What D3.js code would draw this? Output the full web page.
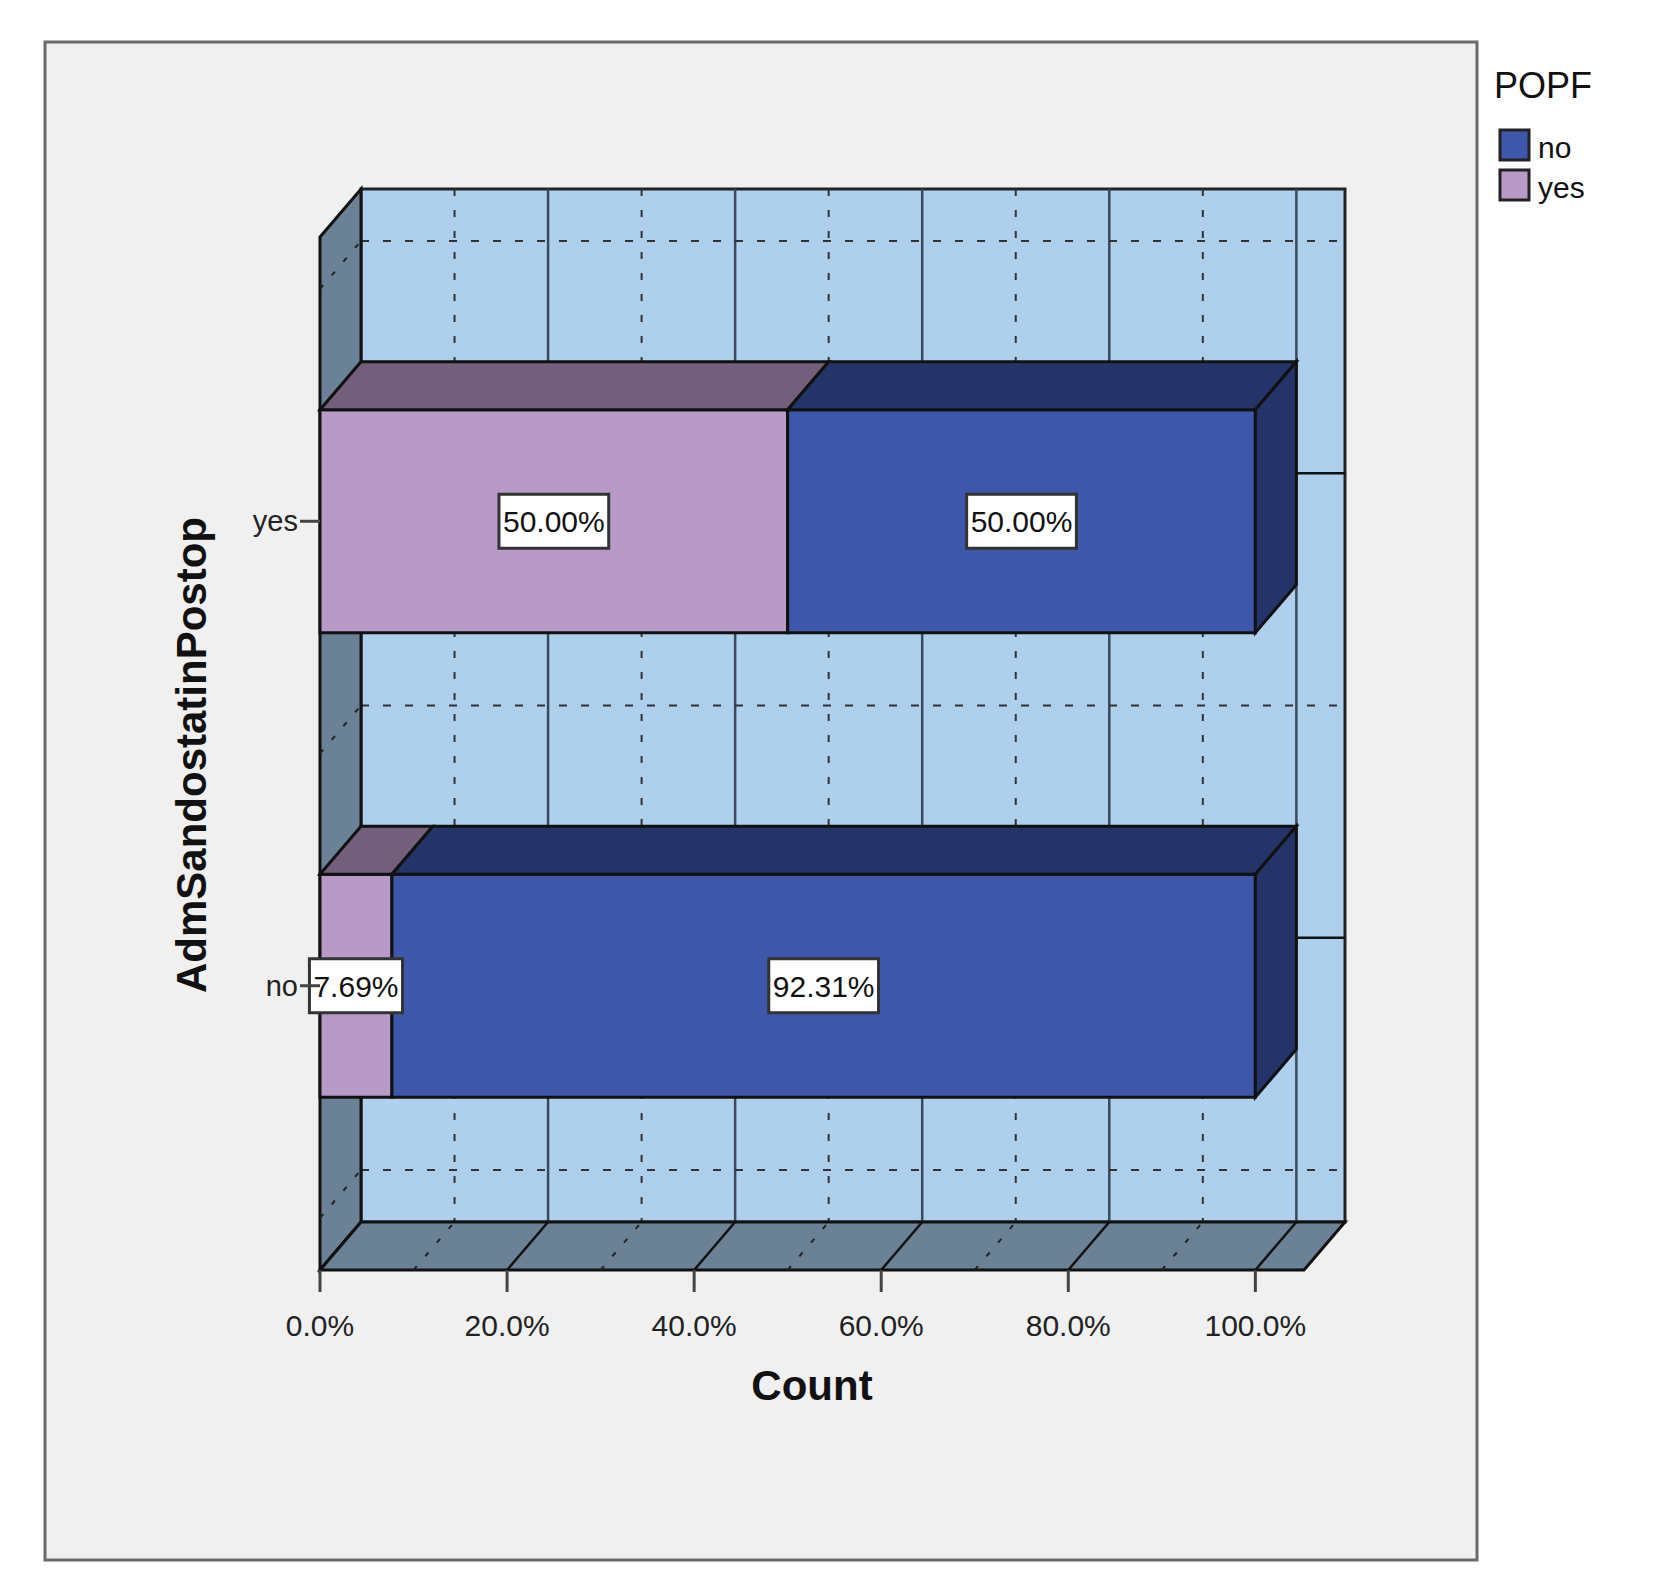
<!DOCTYPE html>
<html><head><meta charset="utf-8">
<script src="https://cdn.jsdelivr.net/npm/d3@7"></script>
<style>body{margin:0;background:#fff}text{font-family:"Liberation Sans",Arial,sans-serif}</style>
</head><body>
<script>
var categories = ["yes", "no"];
var series = ["yes", "no"];           // POPF, stacked left to right
var pctYes = [50.00, 7.69];           // POPF = yes
var pctNo = [50.00, 92.31];           // POPF = no
var xTicks = [0, 20, 40, 60, 80, 100];
var legendItems = ["no", "yes"];

var colors = {
  yes: {face: "#b89ac8", top: "#735f7b"},
  no: {face: "#3e57aa", top: "#253468"}
};

var W = 1655, H = 1579, dx = 41, dy = 48;
var svg = d3.select("body").append("svg").attr("width", W).attr("height", H);

svg.append("rect").attr("x", 45).attr("y", 42).attr("width", 1432).attr("height", 1518)
  .attr("fill", "#f0f0f0").attr("stroke", "#6a6a6a").attr("stroke-width", 3);

var x = d3.scaleLinear().domain([0, 105.2]).range([320, 1304]);
var y = d3.scaleBand().domain(categories).range([237, 1270]).paddingOuter(0.112).paddingInner(0);
var bh = 223;
var x0 = x(0), xEnd = x(105.2), yTop = 237, yBot = 1270;

// back wall
svg.append("rect").attr("x", x0 + dx).attr("y", yTop - dy).attr("width", xEnd - x0).attr("height", yBot - yTop)
  .attr("fill", "#aed0ed").attr("stroke", "#222").attr("stroke-width", 3);

var g = svg.append("g");
d3.range(10, 101, 20).forEach(function(v) {
  g.append("line").attr("x1", x(v) + dx).attr("x2", x(v) + dx).attr("y1", yTop - dy).attr("y2", yBot - dy)
    .attr("stroke", "#333").attr("stroke-width", 2).attr("stroke-dasharray", "7,14");
});
xTicks.slice(1).forEach(function(v) {
  g.append("line").attr("x1", x(v) + dx).attr("x2", x(v) + dx).attr("y1", yTop - dy).attr("y2", yBot - dy)
    .attr("stroke", "#3a4a5a").attr("stroke-width", 2.5);
});
var bounds = [y.range()[0] + y.step() * y.paddingOuter()];
categories.forEach(function(c) { bounds.push(y(c) + y.bandwidth()); });
bounds.forEach(function(b) {
  g.append("line").attr("x1", x0 + dx).attr("x2", xEnd + dx).attr("y1", b - dy).attr("y2", b - dy)
    .attr("stroke", "#333").attr("stroke-width", 2).attr("stroke-dasharray", "8,14");
});
categories.forEach(function(c) {
  var yc = y(c) + y.bandwidth() / 2 - dy;
  g.append("line").attr("x1", x(100) + dx).attr("x2", xEnd + dx).attr("y1", yc).attr("y2", yc)
    .attr("stroke", "#111").attr("stroke-width", 2.5);
});

// side wall and floor
svg.append("polygon").attr("points", [[x0, yTop], [x0 + dx, yTop - dy], [x0 + dx, yBot - dy], [x0, yBot]].join(" "))
  .attr("fill", "#6b8196").attr("stroke", "#111").attr("stroke-width", 3);
svg.append("polygon").attr("points", [[x0, yBot], [x0 + dx, yBot - dy], [xEnd + dx, yBot - dy], [xEnd, yBot]].join(" "))
  .attr("fill", "#6b8196").attr("stroke", "#111").attr("stroke-width", 3);
xTicks.slice(1).forEach(function(v) {
  svg.append("line").attr("x1", x(v)).attr("y1", yBot).attr("x2", x(v) + dx).attr("y2", yBot - dy)
    .attr("stroke", "#111").attr("stroke-width", 2.5);
});
d3.range(10, 101, 20).forEach(function(v) {
  svg.append("line").attr("x1", x(v)).attr("y1", yBot).attr("x2", x(v) + dx).attr("y2", yBot - dy)
    .attr("stroke", "#222").attr("stroke-width", 2).attr("stroke-dasharray", "5,13");
});
bounds.forEach(function(b) {
  svg.append("line").attr("x1", x0).attr("y1", b).attr("x2", x0 + dx).attr("y2", b - dy)
    .attr("stroke", "#222").attr("stroke-width", 2).attr("stroke-dasharray", "5,13");
});

// bars
categories.forEach(function(c, i) {
  var yc = y(c) + y.bandwidth() / 2, top = yc - bh / 2;
  var segs = [{k: "yes", v0: 0, v1: pctYes[i]}, {k: "no", v0: pctYes[i], v1: pctYes[i] + pctNo[i]}];
  var bg = svg.append("g");
  segs.forEach(function(s, j) {
    var a = x(s.v0), b = x(s.v1), col = colors[s.k];
    bg.append("rect").attr("x", a).attr("y", top).attr("width", b - a).attr("height", bh)
      .attr("fill", col.face).attr("stroke", "#111").attr("stroke-width", 3);
    bg.append("polygon").attr("points", [[a, top], [a + dx, top - dy], [b + dx, top - dy], [b, top]].join(" "))
      .attr("fill", col.top).attr("stroke", "#111").attr("stroke-width", 3);
    if (j === segs.length - 1) {
      bg.append("polygon").attr("points", [[b, top], [b + dx, top - dy], [b + dx, top - dy + bh], [b, top + bh]].join(" "))
        .attr("fill", col.top).attr("stroke", "#111").attr("stroke-width", 3);
    }
  });
  segs.forEach(function(s) {
    var cx = (x(s.v0) + x(s.v1)) / 2;
    var t = bg.append("text").attr("x", cx).attr("y", yc + 11).attr("text-anchor", "middle")
      .attr("font-size", 30).attr("fill", "#111").text(s.v1 - s.v0 === 0 ? "" : (s.v1 - s.v0).toFixed(2) + "%");
    var bb = t.node().getBBox();
    bg.insert("rect", function() { return t.node(); })
      .attr("x", bb.x - 4).attr("y", yc - 27).attr("width", bb.width + 8).attr("height", 54)
      .attr("fill", "#fff").attr("stroke", "#333").attr("stroke-width", 3);
  });
  svg.append("line").attr("x1", x0 - 20).attr("x2", x0).attr("y1", yc).attr("y2", yc)
    .attr("stroke", "#444").attr("stroke-width", 3);
  svg.append("text").attr("x", x0 - 22).attr("y", yc + 10).attr("text-anchor", "end")
    .attr("font-size", 29).attr("fill", "#222").text(c);
});
// bring the "no" tick label above nothing else; axis ticks
xTicks.forEach(function(v) {
  svg.append("line").attr("x1", x(v)).attr("x2", x(v)).attr("y1", yBot).attr("y2", yBot + 22)
    .attr("stroke", "#444").attr("stroke-width", 3);
  svg.append("text").attr("x", x(v)).attr("y", yBot + 66).attr("text-anchor", "middle")
    .attr("font-size", 30).attr("fill", "#222").text(v.toFixed(1) + "%");
});

svg.append("text").attr("x", 812).attr("y", 1400).attr("text-anchor", "middle")
  .attr("font-size", 42).attr("font-weight", "bold").attr("fill", "#111").text("Count");
svg.append("text").attr("transform", "translate(206,755) rotate(-90)").attr("text-anchor", "middle")
  .attr("font-size", 42).attr("font-weight", "bold").attr("fill", "#111").text("AdmSandostatinPostop");

// legend
svg.append("text").attr("x", 1494).attr("y", 98).attr("font-size", 36).attr("fill", "#111").text("POPF");
legendItems.forEach(function(k, i) {
  svg.append("rect").attr("x", 1500).attr("y", 130 + i * 40).attr("width", 29).attr("height", 30)
    .attr("fill", colors[k].face).attr("stroke", "#222").attr("stroke-width", 3);
  svg.append("text").attr("x", 1538).attr("y", 158 + i * 40).attr("font-size", 30).attr("fill", "#111").text(k);
});
</script>
</body></html>
